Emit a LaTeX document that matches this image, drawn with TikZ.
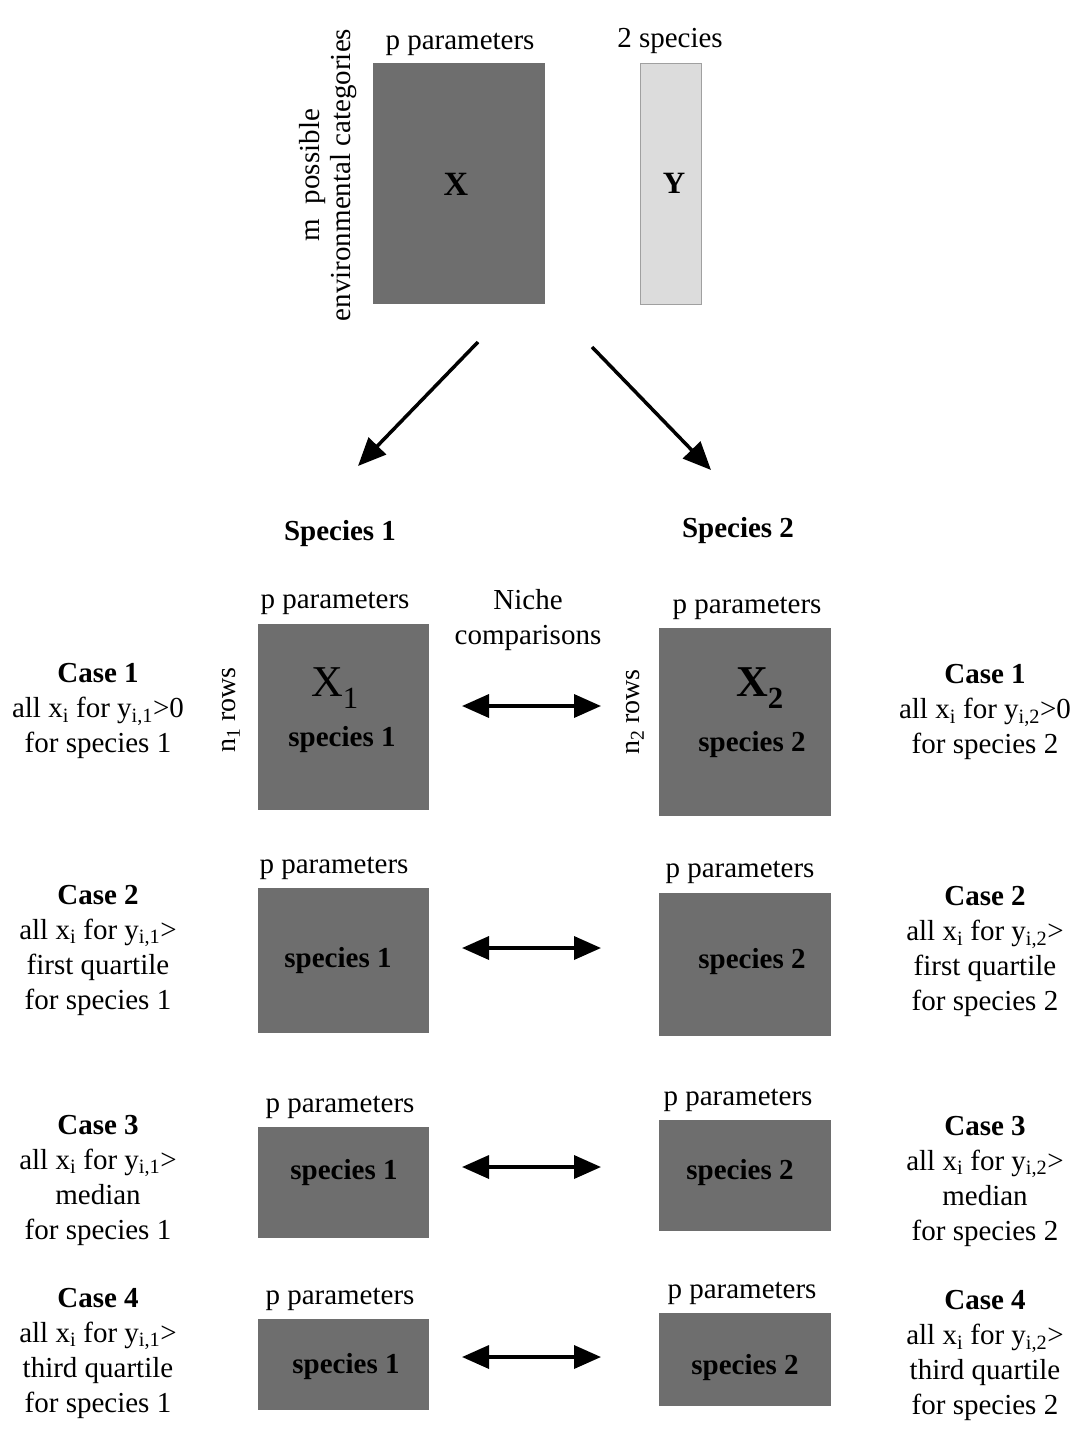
\documentclass[tikz,border=0pt]{standalone}
\usepackage{fontspec}
\setmainfont{Liberation Serif}
\usetikzlibrary{arrows.meta}
\definecolor{boxgray}{HTML}{6E6E6E}
\definecolor{lightgray2}{HTML}{DCDCDC}
\definecolor{edgegray}{HTML}{A0A0A0}
\begin{document}
\begin{tikzpicture}[x=1pt,y=-1pt,
  txt/.style={font=\fontsize{29}{35}\selectfont, inner sep=0pt, align=center},
  btxt/.style={font=\fontsize{29}{35}\selectfont\bfseries, inner sep=0pt, align=center},
  darkbox/.style={fill=boxgray, draw=none, inner sep=0pt},
  lightbox/.style={fill=lightgray2, draw=edgegray, line width=1pt, inner sep=0pt},
  arr/.style={line width=3.5pt, -{Triangle[length=28pt,width=24pt]}},
  darr/.style={line width=3.5pt, {Triangle[length=27pt,width=23pt]}-{Triangle[length=27pt,width=23pt]}}]
\useasboundingbox[fill=white] (0,0) rectangle (1081,1434);

% top matrices
\node[darkbox, minimum width=172pt, minimum height=241pt] (X) at (459,183.5) {};
\node[btxt, font=\fontsize{34}{34}\selectfont\bfseries] (Xl) at (456,184) {X};
\node[lightbox, minimum width=61pt, minimum height=240pt] (Y) at (671,184) {};
\node[btxt, font=\fontsize{31}{31}\selectfont\bfseries] (Yl) at (674,183) {Y};
\node[txt, anchor=base] (pX) at (460,50) {p parameters};
\node[txt, anchor=base] (sY) at (670,48) {2 species};
\node[txt, rotate=90, font=\fontsize{29}{31}\selectfont] (mcat) at (328,175) {m\ \ possible\\environmental categories};

% top arrows
\coordinate (a1s) at (478,342);
\coordinate (a1e) at (358,466);
\coordinate (a2s) at (592,347);
\coordinate (a2e) at (711,470);
\draw[arr] (a1s) -- (a1e);
\draw[arr] (a2s) -- (a2e);

\node[btxt, anchor=base] (sp1) at (340,540) {Species 1};
\node[btxt, anchor=base] (sp2) at (738,537) {Species 2};

% row 1
\node[txt, anchor=base] (p1l) at (335,608) {p parameters};
\node[txt, anchor=base] (p1r) at (747,613) {p parameters};
\node[txt] (niche) at (528,620) {Niche\\comparisons};
\node[darkbox, minimum width=171pt, minimum height=186pt] (B1l) at (343.5,717) {};
\node[darkbox, minimum width=172pt, minimum height=188pt] (B1r) at (745,722) {};
\node[inner sep=0pt, font=\fontsize{44}{44}\selectfont] (X1) at (335,688) {X\textsubscript{1}};
\node[btxt] (s1a) at (342,740) {species 1};
\node[inner sep=0pt, font=\fontsize{44}{44}\selectfont\bfseries] (X2) at (760,688) {X\textsubscript{2}};
\node[btxt] (s2a) at (752,745) {species 2};
\node[txt, rotate=90, font=\fontsize{28}{30}\selectfont] (n1) at (231,710) {n\textsubscript{1} rows};
\node[txt, rotate=90, font=\fontsize{28}{30}\selectfont] (n2) at (635,712) {n\textsubscript{2} rows};
\coordinate (d1s) at (462,706);
\coordinate (d1e) at (601,706);
\draw[darr] (d1s) -- (d1e);
\node[txt] (c1l) at (98,711) {\textbf{Case 1}\\all x\textsubscript{i} for y\textsubscript{i,1}>0\\for species 1};
\node[txt] (c1r) at (985,712) {\textbf{Case 1}\\all x\textsubscript{i} for y\textsubscript{i,2}>0\\for species 2};

% row 2
\node[txt, anchor=base] (p2l) at (334,873) {p parameters};
\node[txt, anchor=base] (p2r) at (740,877) {p parameters};
\node[darkbox, minimum width=171pt, minimum height=145pt] (B2l) at (343.5,960.5) {};
\node[darkbox, minimum width=172pt, minimum height=143pt] (B2r) at (745,964.5) {};
\node[btxt] (s1b) at (338,961) {species 1};
\node[btxt] (s2b) at (752,962) {species 2};
\coordinate (d2s) at (462,948);
\coordinate (d2e) at (601,948);
\draw[darr] (d2s) -- (d2e);
\node[txt] (c2l) at (98,950) {\textbf{Case 2}\\all x\textsubscript{i} for y\textsubscript{i,1}>\\first quartile\\for species 1};
\node[txt] (c2r) at (985,951.5) {\textbf{Case 2}\\all x\textsubscript{i} for y\textsubscript{i,2}>\\first quartile\\for species 2};

% row 3
\node[txt, anchor=base] (p3l) at (340,1112) {p parameters};
\node[txt, anchor=base] (p3r) at (738,1105) {p parameters};
\node[darkbox, minimum width=171pt, minimum height=111pt] (B3l) at (343.5,1182.5) {};
\node[darkbox, minimum width=172pt, minimum height=111pt] (B3r) at (745,1175.5) {};
\node[btxt] (s1c) at (344,1173) {species 1};
\node[btxt] (s2c) at (740,1173) {species 2};
\coordinate (d3s) at (462,1167);
\coordinate (d3e) at (601,1167);
\draw[darr] (d3s) -- (d3e);
\node[txt] (c3l) at (98,1180) {\textbf{Case 3}\\all x\textsubscript{i} for y\textsubscript{i,1}>\\median\\for species 1};
\node[txt] (c3r) at (985,1181) {\textbf{Case 3}\\all x\textsubscript{i} for y\textsubscript{i,2}>\\median\\for species 2};

% row 4
\node[txt, anchor=base] (p4l) at (340,1304) {p parameters};
\node[txt, anchor=base] (p4r) at (742,1298) {p parameters};
\node[darkbox, minimum width=171pt, minimum height=91pt] (B4l) at (343.5,1364.5) {};
\node[darkbox, minimum width=172pt, minimum height=93pt] (B4r) at (745,1359.5) {};
\node[btxt] (s1d) at (346,1367) {species 1};
\node[btxt] (s2d) at (745,1368) {species 2};
\coordinate (d4s) at (462,1357);
\coordinate (d4e) at (601,1357);
\draw[darr] (d4s) -- (d4e);
\node[txt] (c4l) at (98,1353) {\textbf{Case 4}\\all x\textsubscript{i} for y\textsubscript{i,1}>\\third quartile\\for species 1};
\node[txt] (c4r) at (985,1355.5) {\textbf{Case 4}\\all x\textsubscript{i} for y\textsubscript{i,2}>\\third quartile\\for species 2};
\end{tikzpicture}
\end{document}
